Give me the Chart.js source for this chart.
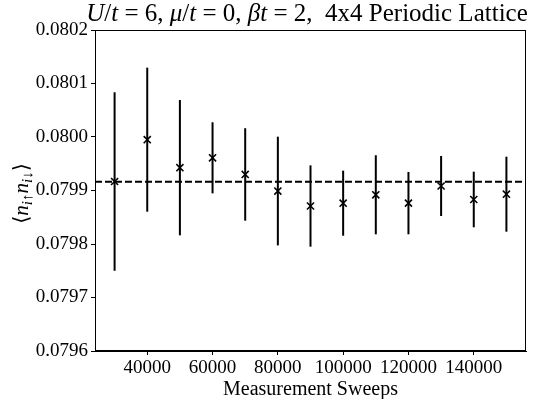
<!DOCTYPE html>
<html>
<head>
<meta charset="utf-8">
<script src="https://cdn.jsdelivr.net/npm/chart.js@4.4.1/dist/chart.umd.min.js"></script>
<style>
  html, body { margin: 0; padding: 0; background: #fff; }
  #wrap { width: 533px; height: 399px; position: relative; }
</style>
</head>
<body>
<div id="wrap"><canvas id="c" width="533" height="399"></canvas></div>
<script>
// ---- data ----
const sweeps = [30000, 40000, 50000, 60000, 70000, 80000, 90000, 100000, 110000, 120000, 130000, 140000, 150000];
const meanValues = [0.0799168, 0.0799950, 0.0799427, 0.0799611, 0.0799300, 0.0798990, 0.0798710, 0.0798763, 0.0798920, 0.0798764, 0.0799084, 0.0798832, 0.0798931];
const errValues = [0.0001668, 0.0001346, 0.0001265, 0.0000664, 0.0000864, 0.0001016, 0.0000760, 0.0000608, 0.0000739, 0.0000583, 0.0000561, 0.0000520, 0.0000701];
const referenceValue = 0.0799165;
const xTicks = [40000, 60000, 80000, 100000, 120000, 140000];
const yTicks = [0.0796, 0.0797, 0.0798, 0.0799, 0.0800, 0.0801, 0.0802];
const xRange = [24000, 156000];
const yRange = [0.0796, 0.0802];
// title segments: [text, italic]
const titleParts = [["U", true], ["/", false], ["t", true], [" = 6, ", false], ["μ", true], ["/", false], ["t", true], [" = 0, ", false], ["β", true], ["t", true], [" = 2,  4x4 Periodic Lattice", false]];
const xLabel = "Measurement Sweeps";
// y label parts: [text, italic, subscript]
const yLabelParts = [["⟨", false, false], ["n", true, false], ["i↑", true, true], ["n", true, false], ["i↓", true, true], ["⟩", false, false]];

const FONT = "'Liberation Serif', 'DejaVu Serif', serif";

const points = sweeps.map((x, i) => ({ x: x, y: meanValues[i] }));

const decor = {
  id: 'decor',
  beforeDatasetsDraw(chart) {
    const { ctx, chartArea: a, scales: { x, y } } = chart;
    ctx.save();
    // reference dashed line
    const yr = y.getPixelForValue(referenceValue);
    ctx.strokeStyle = '#000';
    ctx.lineWidth = 2;
    ctx.setLineDash([7, 3]);
    ctx.beginPath();
    ctx.moveTo(a.left, yr);
    ctx.lineTo(a.right, yr);
    ctx.stroke();
    ctx.setLineDash([]);
    // error bars
    ctx.lineWidth = 2;
    for (let i = 0; i < sweeps.length; i++) {
      const px = x.getPixelForValue(sweeps[i]);
      const y1 = y.getPixelForValue(meanValues[i] + errValues[i]);
      const y2 = y.getPixelForValue(meanValues[i] - errValues[i]);
      ctx.beginPath();
      ctx.moveTo(px, y1);
      ctx.lineTo(px, y2);
      ctx.stroke();
    }
    ctx.restore();
  },
  afterDraw(chart) {
    const { ctx, chartArea: a } = chart;
    ctx.save();
    // frame
    ctx.strokeStyle = '#000';
    ctx.lineWidth = 1;
    ctx.strokeRect(a.left + 0.5, a.top + 0.5, a.right - a.left - 1, a.bottom - a.top - 1);
    // title
    const tsize = 25;
    let w = 0;
    const fnt = (it, s) => (it ? 'italic ' : '') + s + 'px ' + FONT;
    for (const [t, it] of titleParts) { ctx.font = fnt(it, tsize); w += ctx.measureText(t).width; }
    let tx = 307 - w / 2;
    ctx.fillStyle = '#000';
    ctx.textBaseline = 'alphabetic';
    ctx.textAlign = 'left';
    for (const [t, it] of titleParts) {
      ctx.font = fnt(it, tsize);
      ctx.fillText(t, tx, 21);
      tx += ctx.measureText(t).width;
    }
    // y label
    const ls = 21, ss = 15;
    let lw = 0;
    for (const [t, it, sub] of yLabelParts) { ctx.font = fnt(it, sub ? ss : ls); lw += ctx.measureText(t).width; }
    ctx.translate(28, (a.top + a.bottom) / 2 + 3);
    ctx.rotate(-Math.PI / 2);
    let lx = -lw / 2;
    for (const [t, it, sub] of yLabelParts) {
      ctx.font = fnt(it, sub ? ss : ls);
      ctx.fillText(t, lx, sub ? 4 : 0);
      lx += ctx.measureText(t).width;
    }
    ctx.restore();
  }
};

new Chart(document.getElementById('c'), {
  type: 'scatter',
  data: {
    datasets: [{
      data: points,
      pointStyle: 'crossRot',
      pointRadius: 5,
      pointHoverRadius: 5,
      borderColor: '#000',
      backgroundColor: '#000',
      pointBorderWidth: 1.6,
      showLine: false
    }]
  },
  options: {
    responsive: false,
    animation: false,
    events: [],
    layout: { padding: { left: 0, top: 30, right: 7, bottom: 0 } },
    plugins: { legend: { display: false }, tooltip: { enabled: false }, title: { display: false } },
    scales: {
      x: {
        type: 'linear',
        min: xRange[0], max: xRange[1],
        afterBuildTicks: s => { s.ticks = xTicks.map(v => ({ value: v })); },
        afterFit: s => { s.height = 48; },
        grid: { display: true, drawOnChartArea: false, drawTicks: true, tickLength: 4, color: '#000', tickColor: '#000' },
        border: { display: true, color: '#000', width: 1 },
        ticks: { color: '#000', font: { family: FONT, size: 19 }, padding: 2, maxRotation: 0, autoSkip: false, callback: v => String(v) },
        title: { display: true, text: xLabel, color: '#000', font: { family: FONT, size: 20 }, padding: { top: 3, bottom: -3 } }
      },
      y: {
        type: 'linear',
        min: yRange[0], max: yRange[1],
        afterBuildTicks: s => { s.ticks = yTicks.map(v => ({ value: v })); },
        afterFit: s => { s.width = 95; },
        grid: { display: true, drawOnChartArea: false, drawTicks: true, tickLength: 4, color: '#000', tickColor: '#000' },
        border: { display: true, color: '#000', width: 1 },
        ticks: { color: '#000', font: { family: FONT, size: 19 }, padding: 3, autoSkip: false, callback: v => Number(v).toFixed(4) }
      }
    }
  },
  plugins: [decor]
});
</script>
</body>
</html>
